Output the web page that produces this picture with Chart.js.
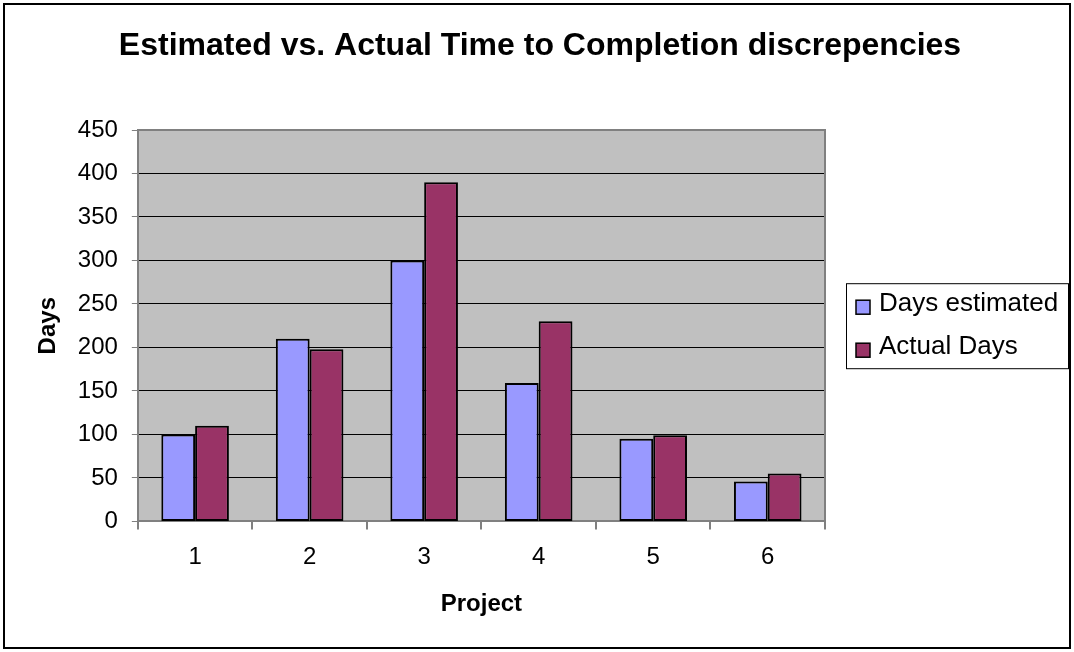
<!DOCTYPE html>
<html>
<head>
<meta charset="utf-8">
<script src="https://cdn.jsdelivr.net/npm/chart.js@4.4.0/dist/chart.umd.min.js"></script>
<style>
  html, body { margin: 0; padding: 0; background: #fff; }
  #wrap { width: 1074px; height: 652px; }
</style>
</head>
<body>
<div id="wrap"><canvas id="chart" width="1074" height="652"></canvas></div>
<script>
// chart data
const projects = ['1', '2', '3', '4', '5', '6'];
const daysEstimated = [100, 210, 300, 159, 95, 46];
const actualDays = [110, 198, 390, 230, 99, 55];
const seriesNames = ['Days estimated', 'Actual Days'];
const seriesColors = ['#9999FF', '#993366'];
const chartTitle = 'Estimated vs. Actual Time to Completion discrepencies';

const FONT = '"Liberation Sans", Arial, sans-serif';

// grey plot area, title and frame round the whole picture
const framePlugin = {
  id: 'frame',
  beforeDraw(chart) {
    const c = chart.ctx, a = chart.chartArea;
    c.save();
    c.fillStyle = '#fff';
    c.fillRect(0, 0, chart.width, chart.height);
    c.fillStyle = '#C0C0C0';
    c.fillRect(a.left, a.top, a.right - a.left, a.bottom - a.top);
    c.restore();
  },
  afterDraw(chart) {
    const c = chart.ctx, a = chart.chartArea;
    c.save();
    c.strokeStyle = '#808080';
    c.lineWidth = 2;
    c.beginPath();
    c.moveTo(a.left, a.top);
    c.lineTo(a.right, a.top);
    c.lineTo(a.right, a.bottom);
    c.stroke();
    c.strokeStyle = '#000';
    c.lineWidth = 2;
    c.strokeRect(4, 4, chart.width - 8, chart.height - 8);
    // title, centred on the whole picture
    c.fillStyle = '#000';
    c.font = 'bold 32px ' + FONT;
    c.textAlign = 'center';
    c.textBaseline = 'middle';
    c.fillText(chartTitle, 540, 46);
    c.restore();
  }
};

// boxed legend to the right of the plot
const boxLegend = {
  id: 'boxLegend',
  afterDraw(chart) {
    const c = chart.ctx, a = chart.chartArea;
    const x = a.right + 21, w = 222, h = 85;
    const y = (a.top + a.bottom) / 2 - h / 2;
    c.save();
    c.fillStyle = '#fff';
    c.fillRect(x, y, w, h);
    c.strokeStyle = '#000';
    c.lineWidth = 1;
    c.strokeRect(x + 0.5, y + 0.5, w, h);
    c.font = '26px ' + FONT;
    c.textBaseline = 'middle';
    chart.data.datasets.forEach((ds, i) => {
      const cy = y + 21 + i * 43;
      c.fillStyle = ds.backgroundColor;
      c.fillRect(x + 10, cy - 4, 14, 14);
      c.strokeStyle = '#000';
      c.lineWidth = 1.5;
      c.strokeRect(x + 10, cy - 4, 14, 14);
      c.fillStyle = '#000';
      c.fillText(ds.label, x + 33, cy);
    });
    c.restore();
  }
};

new Chart(document.getElementById('chart'), {
  type: 'bar',
  data: {
    labels: projects,
    datasets: [
      { label: seriesNames[0], data: daysEstimated, backgroundColor: seriesColors[0] },
      { label: seriesNames[1], data: actualDays, backgroundColor: seriesColors[1] }
    ]
  },
  options: {
    responsive: false,
    animation: false,
    events: [],
    datasets: {
      bar: {
        borderColor: '#000',
        borderWidth: 2,
        borderSkipped: false,
        categoryPercentage: 0.59,
        barPercentage: 1
      }
    },
    layout: { padding: { left: 34, right: 249, top: 130, bottom: 33 } },
    plugins: {
      legend: { display: false },
      tooltip: { enabled: false },
      title: { display: false }
    },
    scales: {
      x: {
        grid: { drawOnChartArea: false, drawTicks: true, tickLength: 8, tickColor: '#808080', lineWidth: 2 },
        border: { color: '#808080', width: 2 },
        ticks: { color: '#000', padding: 14, font: { family: FONT, size: 24 } },
        title: {
          display: true, text: 'Project', color: '#000',
          font: { family: FONT, size: 24, weight: 'bold' },
          padding: { top: 4, bottom: 0 }
        }
      },
      y: {
        min: 0, max: 450,
        ticks: { stepSize: 50, color: '#000', padding: 14, font: { family: FONT, size: 24 } },
        grid: { color: '#000', lineWidth: 1, tickLength: 6, tickColor: '#808080' },
        border: { color: '#808080', width: 2 },
        title: {
          display: true, text: 'Days', color: '#000',
          font: { family: FONT, size: 24, weight: 'bold' },
          padding: { top: 0, bottom: 1 }
        }
      }
    }
  },
  plugins: [framePlugin, boxLegend]
});
</script>
</body>
</html>
